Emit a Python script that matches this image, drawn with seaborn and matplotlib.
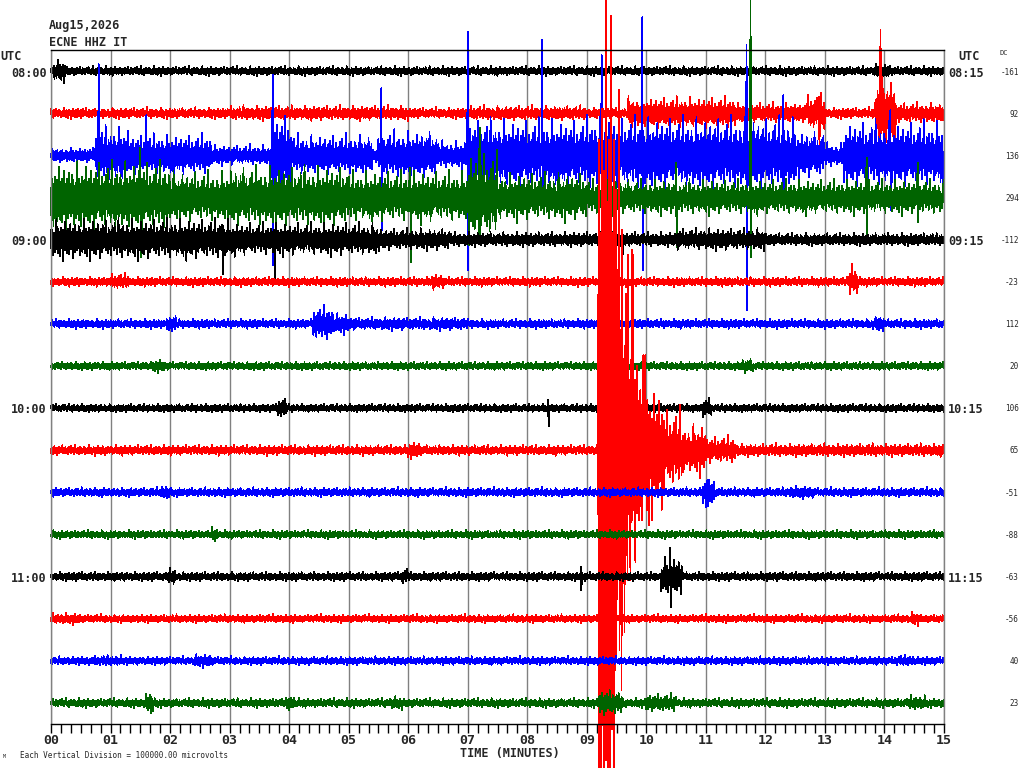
import matplotlib
matplotlib.use("Agg")
import matplotlib.pyplot as plt
import numpy as np
import pandas as pd
import seaborn as sns


# helicorder rows: 16 lines of 15 minutes, 08:00 .. 11:45 UTC
row_colors = ["#000000", "#ff0000", "#0000ff", "#006400"] * 4
left_labels = {0: "08:00", 4: "09:00", 8: "10:00", 12: "11:00"}
right_labels = {0: "08:15", 4: "09:15", 8: "10:15", 12: "11:15"}
dc_values = [-161, 92, 136, 294, -112, -23, 112, 20, 106, 65, -51, -88, -63, -56, 40, 23]
minute_labels = [f"{m:02d}" for m in range(16)]

# quiet noise level of each row (peak half height in pixels)
base_amp = [5, 6, 8, 11, 7, 5, 5, 4.5, 4.5, 5.5, 5, 4.5, 5, 4.5, 4.5, 5]

# stretches of stronger shaking: (row, start min, end min, peak half height px)
events = [
    (0, 0.05, 0.25, 12), (0, 13.8, 14.1, 8),
    (1, 3.0, 6.0, 8), (1, 7.0, 9.0, 8), (1, 9.7, 11.5, 17), (1, 11.5, 12.7, 11),
    (1, 12.7, 13.0, 20), (1, 13.85, 14.2, 38), (1, 14.2, 15.0, 11),
    (2, 0.75, 1.3, 30), (2, 1.3, 2.7, 22), (2, 2.7, 3.7, 11), (2, 3.7, 4.05, 44),
    (2, 4.05, 5.4, 22), (2, 5.5, 6.5, 26), (2, 6.5, 7.0, 15), (2, 7.0, 9.0, 38),
    (2, 9.0, 12.5, 40), (2, 12.5, 13.0, 26), (2, 13.0, 13.3, 13), (2, 13.3, 15.0, 36),
    (3, 0.0, 2.0, 38), (3, 2.0, 3.0, 28), (3, 3.0, 5.0, 33), (3, 5.0, 7.0, 28),
    (3, 7.0, 7.5, 48), (3, 7.5, 9.0, 26), (3, 9.0, 11.5, 19), (3, 11.5, 15.0, 19),
    (4, 0.0, 3.0, 22), (4, 3.0, 5.5, 18), (4, 5.5, 6.7, 12), (4, 6.7, 10.5, 8),
    (4, 10.5, 12.0, 12),
    (5, 1.0, 1.3, 9), (5, 6.4, 6.6, 8), (5, 13.4, 13.55, 16),
    (6, 1.95, 2.1, 10), (6, 4.4, 4.75, 19), (6, 4.75, 5.0, 11), (6, 5.0, 7.0, 7), (6, 13.85, 14.0, 9),
    (7, 1.7, 1.9, 7), (7, 11.6, 11.8, 8),
    (8, 3.8, 3.95, 12), (8, 10.95, 11.1, 11),
    (9, 6.0, 6.2, 9),
    (9, 9.19, 9.47, 620), (9, 9.47, 9.6, 400), (9, 9.6, 9.7, 260), (9, 9.7, 9.8, 200),
    (9, 9.8, 9.9, 140), (9, 9.9, 10.05, 100), (9, 10.05, 10.3, 70), (9, 10.3, 10.6, 45),
    (9, 10.6, 11.0, 28), (9, 11.0, 11.5, 15), (9, 11.5, 15.0, 7),
    (10, 1.85, 2.0, 9), (10, 10.95, 11.15, 15), (10, 12.4, 12.8, 7),
    (11, 2.7, 2.8, 8),
    (12, 1.95, 2.1, 9), (12, 5.9, 6.0, 10), (12, 10.25, 10.6, 21),
    (13, 0.0, 0.5, 6), (13, 14.45, 14.6, 7),
    (14, 0.7, 1.2, 6), (14, 2.4, 2.7, 7), (14, 14.2, 14.5, 6),
    (15, 1.6, 1.72, 14), (15, 3.95, 4.1, 9), (15, 5.7, 5.9, 7), (15, 9.2, 9.6, 14),
    (15, 10.0, 10.5, 10), (15, 14.4, 14.7, 8),
]

# single tall spikes: (row, minute, up px, down px)
spikes = [
    (1, 12.9, 16, 32), (1, 13.93, 83, 20),
    (2, 0.8, 91, 40), (2, 1.6, 40, 45), (2, 3.72, 80, 110), (2, 5.55, 67, 75),
    (2, 7.0, 123, 115), (2, 8.25, 115, 40), (2, 9.25, 100, 115), (2, 9.93, 138, 115),
    (2, 11.68, 110, 155), (2, 12.3, 60, 50), (2, 14.1, 45, 55),
    (3, 1.5, 50, 60), (3, 6.03, 30, 65), (3, 7.2, 70, 40), (3, 10.5, 35, 50),
    (3, 11.75, 197, 60), (3, 13.7, 40, 40), (3, 14.55, 35, 25),
    (4, 2.87, 15, 35), (4, 3.75, 10, 40), (4, 9.6, 8, 15),
    (5, 13.45, 18, 5),
    (8, 8.35, 8, 18),
    (9, 9.77, 195, 60), (9, 9.95, 95, 40),
    (10, 11.02, 12, 14),
    (12, 8.9, 10, 14), (12, 10.4, 29, 31),
]

# fixed wiggle shape used to draw the trace inside its envelope
texture = [
    0.35, -0.5, 0.2, -0.4, 0.6, -0.25, 0.45, -0.7, 0.3, -0.35, 0.15, -0.55, 0.4, -0.2, 0.95, -0.45,
    0.25, -0.6, 0.5, -0.15, 0.35, -0.75, 0.2, -0.4, 0.55, -0.3, 0.1, -1.0, 0.45, -0.25, 0.3, -0.5,
    0.8, -0.35, 0.15, -0.6, 0.4, -0.2, 0.5, -0.65, 0.25, -0.3, 0.7, -0.45, 0.35, -0.1, 0.3, -0.85,
    0.5, -0.3, 0.2, -0.55, 0.65, -0.4, 0.25, -0.35, 0.45, -0.2, 0.9, -0.5, 0.3, -0.25, 0.15, -0.6,
    0.55, -0.35, 0.2, -0.45, 0.35, -0.7, 0.4, -0.15, 0.6, -0.3, 0.25, -0.5, 0.75, -0.2, 0.35, -0.4,
    0.1, -0.65, 0.45, -0.3, 1.0, -0.35, 0.2, -0.55, 0.3, -0.25, 0.5, -0.8, 0.4, -0.2, 0.6, -0.45, 0.25,
]

PX_PER_ROW = 42.1
STEP = 0.5 / 60.0


def build_traces():
    t = np.arange(0, 15 + STEP / 2, STEP)
    frames = []
    for row in range(16):
        amp = np.full(t.size, float(base_amp[row]))
        for r, t0, t1, a in events:
            if r == row:
                sel = (t >= t0) & (t < t1)
                amp[sel] = np.maximum(amp[sel], a)
        wig = np.roll(np.resize(np.array(texture), t.size), row * 13)
        sig = amp * wig
        for r, m, up, down in spikes:
            if r == row:
                i = int(np.searchsorted(t, m))
                sig[i] = up
                sig[i + 1] = -down
        frames.append(pd.DataFrame({"t": t, "y": row - sig / PX_PER_ROW, "row": row}))
    return pd.concat(frames, ignore_index=True)


def px(x, y):
    return x / 1024, 1 - y / 768


def main():
    sns.set_style("white")
    plt.rcParams["font.family"] = ["DejaVu Sans Mono", "DejaVu Sans"]

    df = build_traces()

    fig = plt.figure(figsize=(10.24, 7.68), dpi=100)
    ax = fig.add_axes([51 / 1024, 44 / 768, 893 / 1024, 674 / 768])

    for m in range(16):
        ax.axvline(m, color="#808080", lw=1.0, zorder=0)

    sns.lineplot(data=df, x="t", y="y", hue="row", hue_order=list(range(16)),
                 palette=row_colors, estimator=None, sort=False, legend=False,
                 lw=0.6, ax=ax)
    for line in ax.lines[16:]:
        line.set_clip_on(False)
        line.set_antialiased(False)

    ax.set_xlim(0, 15)
    ax.set_ylim(15.5, -0.5)
    ax.set_xlabel("")
    ax.set_ylabel("")
    ax.set_yticks([])
    ax.set_xticks(range(16))
    ax.set_xticklabels(minute_labels, fontsize=9.5, fontweight="bold")
    ax.set_xticks(np.arange(0, 15, 1 / 6), minor=True)
    ax.tick_params(axis="x", which="both", direction="out", length=6.5, width=1,
                   color="black", pad=0.5, bottom=True)
    for side in ["left", "right"]:
        ax.spines[side].set_color("#808080")
    for side in ["top", "bottom"]:
        ax.spines[side].set_color("black")
    for sp in ax.spines.values():
        sp.set_linewidth(1.0)

    fig.text(*px(49, 26), "Aug15,2026", fontsize=8.5, fontweight="bold", va="center")
    fig.text(*px(49, 42), "ECNE HHZ IT", fontsize=8.5, fontweight="bold", va="center")
    fig.text(*px(0, 57), "UTC", fontsize=8.5, fontweight="bold", va="center")
    fig.text(*px(969, 57), "UTC", fontsize=8.5, fontweight="bold", va="center", ha="center")
    fig.text(*px(1000, 53), "DC", fontsize=5, va="center")

    for row in range(16):
        yc = 50 + (row + 0.5) * PX_PER_ROW
        if row in left_labels:
            fig.text(*px(47, yc + 2), left_labels[row], fontsize=8.5, fontweight="bold",
                     ha="right", va="center")
            fig.text(*px(948, yc + 2), right_labels[row], fontsize=8.5, fontweight="bold",
                     ha="left", va="center")
        fig.text(*px(1019, yc + 1), str(dc_values[row]), fontsize=5.5, ha="right", va="center")

    fig.text(*px(510, 754), "TIME (MINUTES)", fontsize=8.5, fontweight="bold",
             ha="center", va="center")
    fig.text(*px(20, 755), "Each Vertical Division = 100000.00 microvolts", fontsize=5.5,
             va="center")
    fig.text(*px(3, 757), "M", fontsize=3.5, va="center")

    fig.savefig("out.png", dpi=100)
    plt.close(fig)


if __name__ == "__main__":
    main()
